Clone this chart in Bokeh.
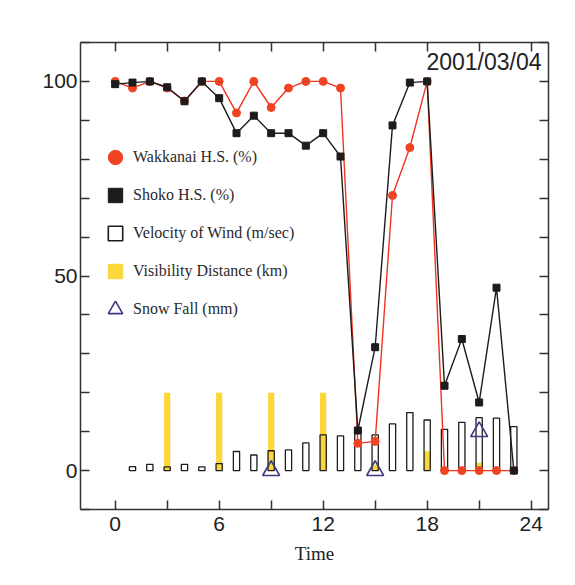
from bokeh.plotting import figure
from bokeh.models import (ColumnDataSource, LinearAxis, FixedTicker, Legend,
                          LegendItem, Label, Range1d)
from bokeh.embed import file_html
from bokeh.resources import INLINE

# ---- data -------------------------------------------------------------
hours = list(range(24))
wakkanai_hs = [100, 98.3, 100, 98.3, 95, 100, 100, 91.9, 100, 93.3, 98.3, 100,
               100, 98.3, 7, 7.5, 70.7, 83, 100, 0, 0, 0, 0, 0]
shoko_hs = [99.3, 99.7, 100, 98.5, 94.9, 100, 95.7, 86.7, 91.2, 86.7, 86.7, 83.5,
            86.7, 80.7, 10.3, 31.7, 88.7, 99.7, 100, 21.8, 33.8, 17.5, 47, 0]
wind_hours = list(range(1, 24))
wind_velocity = [1.0, 1.6, 0.95, 1.6, 0.95, 1.8, 4.9, 4.0, 5.1, 5.3, 7.1, 9.2,
                 8.9, 10.5, 9.2, 12.0, 14.9, 13.0, 10.6, 12.4, 13.6, 13.5, 11.3]
vis_hours = [3, 6, 9, 12, 15, 18, 21]
visibility = [20, 20, 20, 20, 1.5, 5, 2]
snow_hours = [9, 15, 21]
snow_fall = [0, 0, 10]

x_major = [0, 6, 12, 18, 24]
x_minor = [3, 9, 15, 21]
y_major = [0, 50, 100]
y_minor = [-10, 10, 20, 30, 40, 60, 70, 80, 90, 110]
date_text = "2001/03/04"
x_title = "Time"
labels = ["Wakkanai H.S. (%)", "Shoko H.S. (%)", "Velocity of Wind (m/sec)",
          "Visibility Distance (km)", "Snow Fall (mm)"]

# ---- colours ----------------------------------------------------------
RED_LINE = "#f2321e"
RED_PT = "#ef4423"
BLACK = "#1c1c1c"
YELLOW = "#fbd73a"
TRI = "#3d3a80"
AXIS = "#333333"

line_src = ColumnDataSource(dict(h=hours, w=wakkanai_hs, s=shoko_hs))
wind_src = ColumnDataSource(dict(h=wind_hours, v=wind_velocity))
vis_src = ColumnDataSource(dict(h=vis_hours, v=visibility))
snow_src = ColumnDataSource(dict(h=snow_hours, v=snow_fall))

p = figure(width=567, height=577, x_range=Range1d(-2, 25), y_range=Range1d(-10, 110),
           x_axis_type=None, y_axis_type=None,
           output_backend="svg", toolbar_location=None,
           min_border_left=80, min_border_right=19, min_border_top=42, min_border_bottom=68,
           background_fill_color="white", border_fill_color="white")
p.outline_line_color = None
p.xgrid.visible = False
p.ygrid.visible = False


def style_axis(ax):
    ax.axis_line_color = AXIS
    ax.axis_line_width = 1.5
    ax.major_tick_line_color = AXIS
    ax.major_tick_line_width = 1.5
    ax.minor_tick_line_color = AXIS
    ax.minor_tick_line_width = 1.5
    ax.major_tick_in = 9
    ax.major_tick_out = 0
    ax.minor_tick_in = 9
    ax.minor_tick_out = 0
    ax.major_label_text_font = "Liberation Sans"
    ax.major_label_text_font_size = "21px"
    ax.major_label_text_color = "#222222"


xb = LinearAxis(ticker=FixedTicker(ticks=x_major, minor_ticks=x_minor), axis_label=x_title)
style_axis(xb)
xb.major_label_standoff = 7
xb.axis_label_text_font = "Liberation Serif"
xb.axis_label_text_font_size = "19px"
xb.axis_label_text_font_style = "normal"
xb.axis_label_text_color = "#222222"
xb.axis_label_standoff = 9
p.add_layout(xb, "below")

xt = LinearAxis(ticker=FixedTicker(ticks=[], minor_ticks=x_major + x_minor))
style_axis(xt)
p.add_layout(xt, "above")

yl = LinearAxis(ticker=FixedTicker(ticks=y_major, minor_ticks=y_minor))
style_axis(yl)
yl.major_label_standoff = 3
p.add_layout(yl, "left")

yr = LinearAxis(ticker=FixedTicker(ticks=[], minor_ticks=y_major + y_minor))
style_axis(yr)
p.add_layout(yr, "right")

# ---- glyphs -----------------------------------------------------------
p.vbar(x="h", top="v", bottom=0, width=0.36, source=vis_src,
       fill_color=YELLOW, line_color=None)
p.vbar(x="h", top="v", bottom=0, width=0.36, source=wind_src,
       fill_color=None, line_color=BLACK, line_width=1.3)

p.line("h", "w", source=line_src, line_color=RED_LINE, line_width=1.4)
p.line("h", "s", source=line_src, line_color=BLACK, line_width=1.4)
red_pts = p.scatter("h", "w", source=line_src, marker="circle", size=8,
                    fill_color=RED_PT, line_color=RED_PT)
blk_pts = p.scatter("h", "s", source=line_src, marker="square", size=7,
                    fill_color=BLACK, line_color=BLACK)
snow_pts = p.scatter("h", "v", source=snow_src, marker="triangle", size=17,
                     fill_color=None, line_color=TRI, line_width=1.6)

# legend proxies (hidden) so legend swatches look like the reference
wind_proxy = p.scatter("h", "v", source=wind_src, marker="square", size=15,
                       fill_color=None, line_color=BLACK, line_width=1.6, visible=False)
vis_proxy = p.scatter("h", "v", source=vis_src, marker="square", size=15,
                      fill_color=YELLOW, line_color=YELLOW, visible=False)

legend = Legend(items=[LegendItem(label=labels[0], renderers=[red_pts]),
                       LegendItem(label=labels[1], renderers=[blk_pts]),
                       LegendItem(label=labels[2], renderers=[wind_proxy]),
                       LegendItem(label=labels[3], renderers=[vis_proxy]),
                       LegendItem(label=labels[4], renderers=[snow_pts])],
                location=(17, 181), padding=0, margin=0, spacing=0,
                glyph_width=36, glyph_height=38, label_standoff=0,
                border_line_color=None, background_fill_alpha=0,
                label_text_font="Liberation Serif", label_text_font_size="16px",
                label_text_color="#2a2a2a")
p.add_layout(legend)

p.add_layout(Label(x=461, y=448, x_units="screen", y_units="screen", text=date_text,
                   text_align="right", text_baseline="alphabetic",
                   text_font="Liberation Sans", text_font_size="23px",
                   text_color="#222222"))

open("out.html", "w").write(file_html(p, INLINE))
